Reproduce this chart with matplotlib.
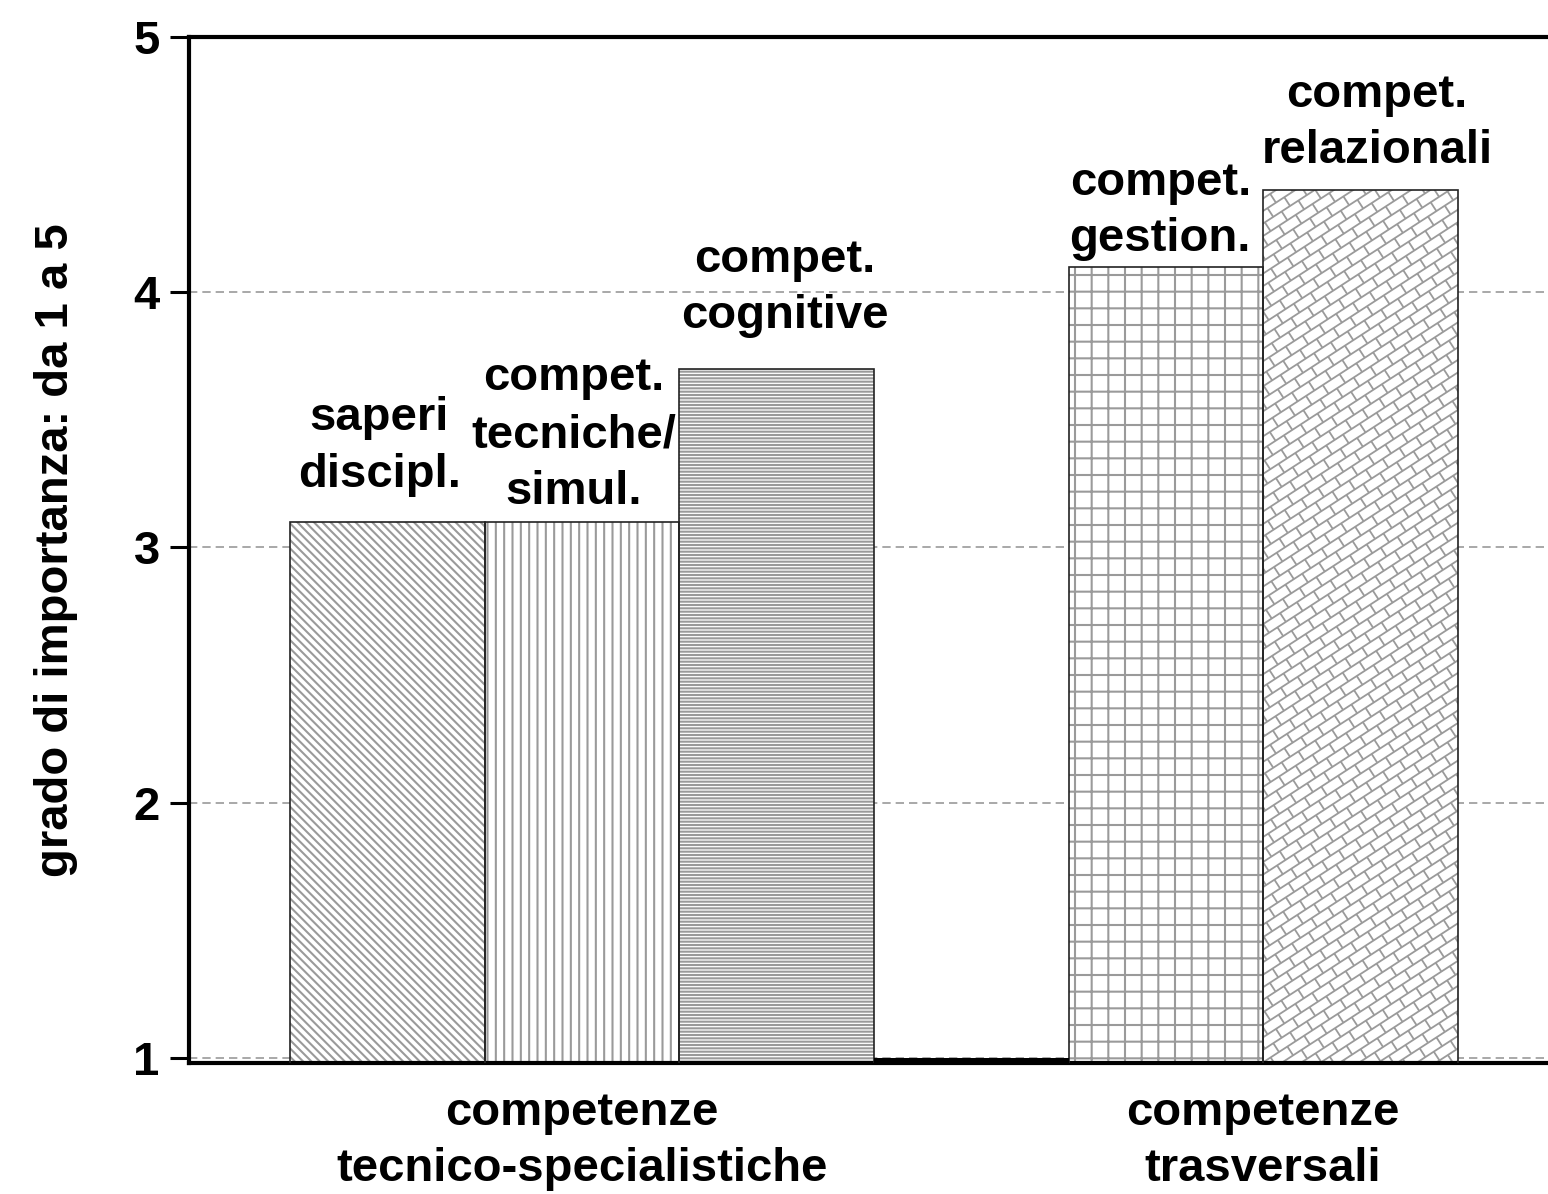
import numpy as np
import matplotlib.pyplot as plt
from matplotlib.collections import LineCollection
from matplotlib.transforms import IdentityTransform

plt.rcParams['font.family'] = ['Liberation Sans', 'DejaVu Sans']
plt.rcParams['font.weight'] = 'bold'
plt.rcParams['hatch.linewidth'] = 1.5

# bar data
bar_labels = ['saperi\ndiscipl.', 'compet.\ntecniche/\nsimul.', 'compet.\ncognitive',
              'compet.\ngestion.', 'compet.\nrelazionali']
values = [3.1, 3.1, 3.7, 4.1, 4.4]
positions = [0, 1, 2, 4, 5]
hatches = ['\\\\\\\\', '||', '-----', '+', None]

# group labels under the axis
groups = ['competenze\ntecnico-specialistiche', 'competenze\ntrasversali']
group_pos = [1, 4.5]
gap_pos = 3

# label nudges (points) above each bar
label_dx = [-6, -6, 6, -4, 12]
label_dy = [18, 6, 22, 4, 12]

y_min, y_max = 0.98, 5
hatch_gray = '#9a9a9a'


def brick_fill(ax, patch, spacing=10.5, length=20, angle=33):
    # diagonal brick texture drawn in pixel space, clipped to the bar
    bb = patch.get_window_extent()
    a = np.deg2rad(angle)
    d = np.array([np.cos(a), np.sin(a)])
    n = np.array([-np.sin(a), np.cos(a)])
    corners = np.array([[bb.x0, bb.y0], [bb.x1, bb.y0], [bb.x0, bb.y1], [bb.x1, bb.y1]])
    u = corners @ d
    v = corners @ n
    segs = []
    k0, k1 = int(np.floor(v.min() / spacing)) - 1, int(np.ceil(v.max() / spacing)) + 1
    for k in range(k0, k1):
        c = k * spacing
        segs.append([u.min() * d + c * n, u.max() * d + c * n])
        off = (k % 2) * length / 2
        j0, j1 = int(np.floor(u.min() / length)) - 1, int(np.ceil(u.max() / length)) + 1
        for j in range(j0, j1):
            uu = j * length + off
            segs.append([uu * d + c * n, uu * d + (c + spacing) * n])
    lc = LineCollection(segs, colors=hatch_gray, linewidths=1.3,
                        transform=IdentityTransform(), zorder=2.5)
    ax.add_collection(lc, autolim=False)
    # path clip keeps the axes clip box as well
    lc.set_clip_path(patch.get_path(), patch.get_transform())


fig = plt.figure(figsize=(15.48, 11.94), dpi=100)
ax = fig.add_axes([189 / 1548, 1 - 1063 / 1194, 1366 / 1548, 1026 / 1194])
ax.set_xlim(-1.02, 6.0)
ax.set_ylim(y_min, y_max)

ax.yaxis.grid(True, linestyle=(0, (5, 3)), color='#9a9a9a', linewidth=1.2)
ax.set_axisbelow(True)

for x, v, h, lab, dx, dy in zip(positions, values, hatches, bar_labels, label_dx, label_dy):
    b = ax.bar(x, v, width=1, color='white', edgecolor=hatch_gray, hatch=h,
               linewidth=0, zorder=2)[0]
    if h is None:
        brick_fill(ax, b)
    ax.bar(x, v, width=1, fill=False, edgecolor='#222222', linewidth=1.2, zorder=3)
    ax.annotate(lab, (x, v), xytext=(dx, dy), textcoords='offset points',
                ha='center', va='bottom', fontsize=34, fontweight='bold',
                multialignment='center', linespacing=1.37)

# baseline filler between the two groups
ax.bar(gap_pos, 1.0 - y_min, bottom=y_min, width=1, color='black', zorder=3)

ax.set_yticks([1, 2, 3, 4, 5])
ax.set_yticklabels(['1', '2', '3', '4', '5'], fontsize=34, fontweight='bold')
ax.tick_params(axis='y', direction='out', length=14, width=2.2, pad=7)

ax.set_xticks(group_pos)
ax.set_xticklabels(groups, fontsize=34, fontweight='bold', linespacing=1.35)
ax.tick_params(axis='x', length=0, pad=20)

ax.set_ylabel('grado di importanza: da 1 a 5', fontsize=34, fontweight='bold', labelpad=40)

for s in ['left', 'top', 'bottom']:
    ax.spines[s].set_linewidth(3)
ax.spines['right'].set_visible(False)

fig.savefig('out.png', dpi=100)
